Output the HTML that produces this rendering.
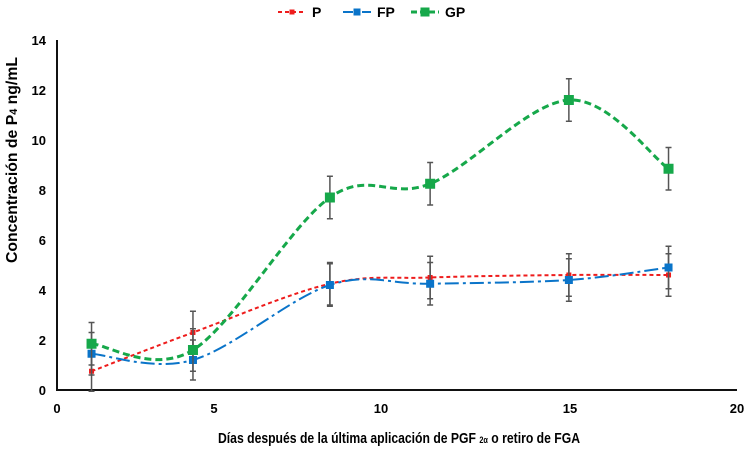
<!DOCTYPE html>
<html><head><meta charset="utf-8"><style>
body{margin:0;background:#fff;width:747px;height:451px;overflow:hidden}
svg{font-family:"Liberation Sans Narrow","Liberation Sans",sans-serif;font-weight:bold}
</style></head><body>
<svg id="c" width="747" height="451"></svg>
<script>
const days=[1.1,4.33,8.47,11.3,14.97,17.95];
const seriesP=[0.75,2.3,4.25,4.5,4.6,4.6];
const seriesFP=[1.45,1.2,4.2,4.25,4.4,4.9];
const seriesGP=[1.85,1.6,7.7,8.25,11.6,8.85];
const errP=[0.8,0.85,0.85,0.85,0.85,0.85];
const errFP=[0.85,0.8,0.85,0.85,0.85,0.85];
const errGP=[0.85,0.85,0.85,0.85,0.85,0.85];
const xTicks=[0,5,10,15,20];
const yTicks=[0,2,4,6,8,10,12,14];
const xTickPx=[57,214,381,570,737];
const NS="http://www.w3.org/2000/svg";
const svg=document.getElementById('c');
function el(t,a,p){const e=document.createElementNS(NS,t);for(const k in a)e.setAttribute(k,a[k]);(p||svg).appendChild(e);return e;}
function X(v){for(let i=0;i<xTicks.length-1;i++){if(v<=xTicks[i+1]||i==xTicks.length-2){return xTickPx[i]+(v-xTicks[i])/(xTicks[i+1]-xTicks[i])*(xTickPx[i+1]-xTickPx[i]);}}}
function Y(v){return 390-v*25;}
let a=el('line',{x1:57,y1:40,x2:57,y2:390,stroke:'#111','stroke-width':2});

a=el('line',{x1:56,y1:390,x2:737,y2:390,stroke:'#111','stroke-width':2});

yTicks.forEach(t=>{const e=el('text',{x:46,y:Y(t)+5,'text-anchor':'end','font-size':13});e.textContent=t;
});
xTicks.forEach(t=>{const e=el('text',{x:X(t),y:413,'text-anchor':'middle','font-size':13});e.textContent=t;
});
let yt=el('text',{x:0,y:0,transform:'translate(17,160) rotate(-90)','text-anchor':'middle','font-size':16,textLength:206,lengthAdjust:'spacingAndGlyphs'});
yt.innerHTML='Concentración de P<tspan font-size="11">4</tspan> ng/mL';

let xt=el('text',{x:399,y:443,'text-anchor':'middle','font-size':15,textLength:362,lengthAdjust:'spacingAndGlyphs'});
xt.innerHTML='Días después de la última aplicación de PGF <tspan font-size="9">2α</tspan> o retiro de FGA';

function smooth(pts){let d='M'+pts[0][0]+','+pts[0][1];
for(let i=0;i<pts.length-1;i++){const p0=pts[i-1]||pts[i],p1=pts[i],p2=pts[i+1],p3=pts[i+2]||p2;
const c1=[p1[0]+(p2[0]-p0[0])/6,p1[1]+(p2[1]-p0[1])/6],c2=[p2[0]-(p3[0]-p1[0])/6,p2[1]-(p3[1]-p1[1])/6];
d+=` C${c1[0]},${c1[1]} ${c2[0]},${c2[1]} ${p2[0]},${p2[1]}`;}return d;}
function series(vals,errs,color,dash,w,marker,name){
 vals.forEach((v,i)=>{const x=X(days[i]);const g=el('g',{stroke:'#555','stroke-width':1.5});
 
 el('line',{x1:x,x2:x,y1:Y(v+errs[i]),y2:Y(v-errs[i])},g);
 el('line',{x1:x-3,x2:x+3,y1:Y(v+errs[i]),y2:Y(v+errs[i])},g);
 el('line',{x1:x-3,x2:x+3,y1:Y(v-errs[i]),y2:Y(v-errs[i])},g);});
 const pts=vals.map((v,i)=>[X(days[i]),Y(v)]);
 const p=el('path',{d:smooth(pts),fill:'none',stroke:color,'stroke-width':w,'stroke-dasharray':dash});
 
 pts.forEach(q=>{const s=marker;const m=el('rect',{x:q[0]-s/2,y:q[1]-s/2,width:s,height:s,fill:color});
 });}
series(seriesP,errP,'#ee1c1c','4,3',2,5,'p');
series(seriesFP,errFP,'#0a74c9','14,4,3,4',2,8,'fp');
series(seriesGP,errGP,'#16a84a','7,4',3,10,'gp');
const leg=[['P','#ee1c1c','4,3',2,5,278],['FP','#0a74c9','10,3,3,3',2,7,343],['GP','#16a84a','6,3',3,9,411]];
leg.forEach(l=>{const g=el('g',{});
el('line',{x1:l[5],x2:l[5]+28,y1:12,y2:12,stroke:l[1],'stroke-width':l[3],'stroke-dasharray':l[2]},g);
el('rect',{x:l[5]+14-l[4]/2,y:12-l[4]/2,width:l[4],height:l[4],fill:l[1]},g);
const t=el('text',{x:l[5]+34,y:17,'font-size':14},g);t.textContent=l[0];});
</script>
</body></html>
